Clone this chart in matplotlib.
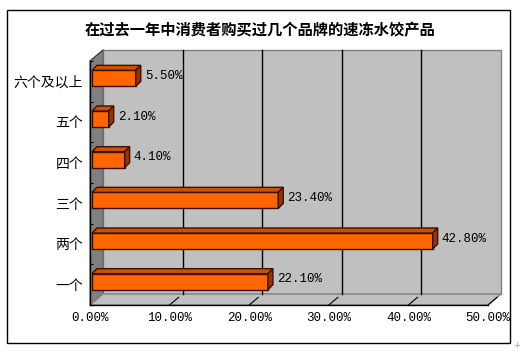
import matplotlib
matplotlib.use("Agg")
import matplotlib.pyplot as plt
from matplotlib.patches import Polygon, Rectangle

categories = ["一个", "两个", "三个", "四个", "五个", "六个及以上"]
values = [22.1, 42.8, 23.4, 4.1, 2.1, 5.5]
x_ticks = [0, 10, 20, 30, 40, 50]
title = "在过去一年中消费者购买过几个品牌的速冻水饺产品"

W, H = 523, 352
CJK = ["Noto Sans CJK SC", "DejaVu Sans"]
MONO = ["Liberation Mono", "DejaVu Sans Mono"]

fig = plt.figure(figsize=(W / 100, H / 100), dpi=100)
# front plane of the 3d box, in pixels: x 90..488, y 61..305
ax = fig.add_axes([90 / W, (H - 305) / H, 398 / W, 244 / H])
ax.set_xlim(0, 50)
ax.set_ylim(-0.5, 5.5)
for s in ax.spines.values():
    s.set_visible(False)
ax.patch.set_visible(False)

px_x = 50 / 398       # data units per pixel
px_y = 6 / 244
DX, DY = 13 * px_x, 11 * px_y       # wall depth
FX, FY = 2 * px_x, 3 * px_y         # bar front offset
BX, BY = 5 * px_x, 5 * px_y         # bar depth
BH = 16 * px_y                      # bar height

y0, y1 = -0.5, 5.5
wall_edge = "#808080"
# back wall
ax.add_patch(Polygon([(DX, y0 + DY), (50 + DX, y0 + DY), (50 + DX, y1 + DY), (DX, y1 + DY)],
                     closed=True, fc="#c0c0c0", ec=wall_edge, lw=1, clip_on=False, zorder=1))
# left wall
ax.add_patch(Polygon([(0, y0), (DX, y0 + DY), (DX, y1 + DY), (0, y1)],
                     closed=True, fc="#808080", ec="#606060", lw=0.8, clip_on=False, zorder=1))
# floor
ax.add_patch(Polygon([(0, y0), (50, y0), (50 + DX, y0 + DY), (DX, y0 + DY)],
                     closed=True, fc="#c0c0c0", ec=wall_edge, lw=1, clip_on=False, zorder=1))

# gridlines on back wall and floor diagonals
for t in x_ticks[1:]:
    if t < 50:
        ax.plot([t + DX, t + DX], [y0 + DY, y1 + DY], color="black", lw=1, zorder=2, clip_on=False)
    ax.plot([t, t + DX * 0.7], [y0, y0 + DY * 0.7], color="black", lw=0.8, zorder=2, clip_on=False)

# front axis lines
ax.plot([0, 0], [y0, y1], color="black", lw=1, zorder=3, clip_on=False)
ax.plot([0, 50], [y0, y0], color="black", lw=1, zorder=3, clip_on=False)
ax.plot([0, DX], [y1, y1 + DY], color="#404040", lw=0.8, zorder=3, clip_on=False)

# bars
ys = list(range(len(categories)))
front = "#ff6600"
top_c = "#cc5200"
side_c = "#993300"
edge = "#3a1000"
ax.barh([y + FY for y in ys], values, left=FX, height=BH, color=front,
        edgecolor=edge, linewidth=1, zorder=5)
for y, v in zip(ys, values):
    bot = y + FY - BH / 2
    top = y + FY + BH / 2
    right = FX + v
    ax.add_patch(Polygon([(FX, top), (right, top), (right + BX, top + BY), (FX + BX, top + BY)],
                         closed=True, fc=top_c, ec=edge, lw=1, zorder=5, clip_on=False))
    ax.add_patch(Polygon([(right, bot), (right, top), (right + BX, top + BY), (right + BX, bot + BY)],
                         closed=True, fc=side_c, ec=edge, lw=1, zorder=5, clip_on=False))
    ax.text(right + BX + 4 * px_x, y + FY + BY / 2, f"{v:.2f}%", ha="left", va="center",
            fontsize=9, family=MONO, color="black", zorder=6)

# ticks and labels
ax.set_yticks(ys)
ax.set_yticklabels(categories, family=CJK, fontsize=10)
ax.set_yticks([y - 0.5 for y in range(len(categories) + 1)], minor=True)
ax.tick_params(axis="y", which="major", length=0, pad=5)
ax.tick_params(axis="y", which="minor", direction="in", length=2.5, width=0.8, color="black")
ax.set_xticks(x_ticks)
ax.set_xticklabels([f"{t:.2f}%" for t in x_ticks], family=MONO, fontsize=9)
ax.tick_params(axis="x", length=0, pad=5)

fig.text(0.497, 1 - 30 / H, title, ha="center", va="center", family=CJK,
         fontsize=11, fontweight="bold")

fig.add_artist(Rectangle((7 / W, 9 / H), 503 / W, 333 / H, transform=fig.transFigure,
                         fill=False, ec="black", lw=1))
fig.text(517 / W, 1 - 346 / H, "+", ha="center", va="center", fontsize=6, color="#999999")

fig.savefig("out.png", dpi=100)
